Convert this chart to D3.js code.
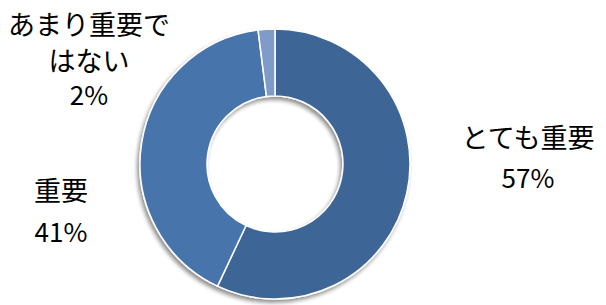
<!DOCTYPE html>
<html><head><meta charset="utf-8">
<script src="https://cdn.jsdelivr.net/npm/d3@7"></script>
<style>body{margin:0;background:#fff}svg{display:block}</style>
</head><body>
<script>
const categories = ["とても重要", "重要", "あまり重要ではない"];
const values = [57, 41, 2];
const colors = ["#3d6595", "#4674ab", "#7f9cc9"];
const labelLines = [["とても重要", "57%"], ["重要", "41%"], ["あまり重要で", "はない", "2%"]];
const labelPos = [
  {x: 528, ys: [148, 188]},
  {x: 61, ys: [201, 242]},
  {x: 89, ys: [35, 71, 105]}
];

const W = 606, H = 305, cx = 275, cy = 164, R = 135, r = 68;
const svg = d3.select("body").append("svg").attr("width", W).attr("height", H);
const defs = svg.append("defs");
const f = defs.append("filter").attr("id", "sh").attr("x", "-20%").attr("y", "-20%").attr("width", "140%").attr("height", "140%");
f.append("feGaussianBlur").attr("in", "SourceAlpha").attr("stdDeviation", 2).attr("result", "b");
f.append("feOffset").attr("in", "b").attr("dx", -2).attr("dy", 3).attr("result", "o");
f.append("feComponentTransfer").attr("in", "o").attr("result", "o2")
  .append("feFuncA").attr("type", "linear").attr("slope", 0.45);
const m = f.append("feMerge");
m.append("feMergeNode").attr("in", "o2");
m.append("feMergeNode").attr("in", "SourceGraphic");

const pie = d3.pie().sort(null).value(d => d)(values);
const arc = d3.arc().innerRadius(r).outerRadius(R);
const g = svg.append("g").attr("transform", `translate(${cx},${cy})`).attr("filter", "url(#sh)");
g.selectAll("path").data(pie).join("path")
  .attr("d", arc)
  .attr("fill", (d, i) => colors[i])
  .attr("stroke", "#fff").attr("stroke-width", 1.5).attr("stroke-linejoin", "round");

const lg = svg.append("g").attr("font-family", "'Noto Sans CJK JP', 'Noto Sans', sans-serif")
  .attr("fill", "#000").attr("text-anchor", "middle");
labelLines.forEach((lines, i) => {
  lines.forEach((t, j) => {
    lg.append("text").attr("x", labelPos[i].x).attr("y", labelPos[i].ys[j])
      .attr("font-size", /%$/.test(t) ? 26 : 27).text(t);
  });
});
</script>
</body></html>
